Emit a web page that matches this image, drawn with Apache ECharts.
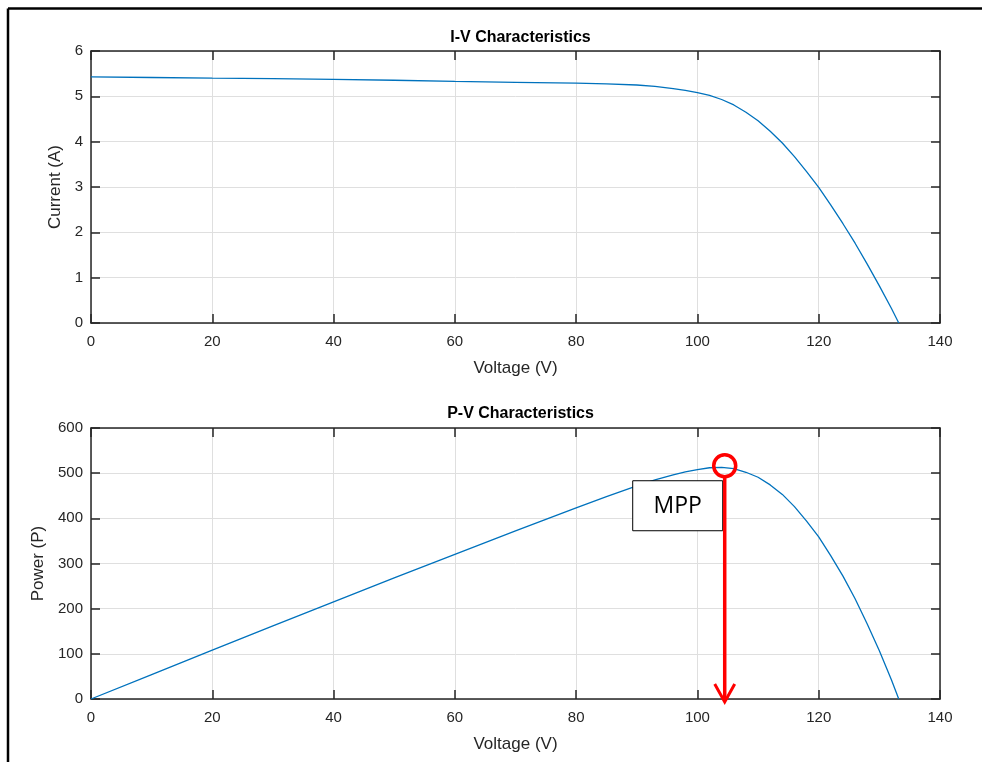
<!DOCTYPE html>
<html>
<head>
<meta charset="utf-8">
<script src="https://cdn.jsdelivr.net/npm/echarts@6/dist/echarts.min.js"></script>
<style>
html,body{margin:0;padding:0;background:#fff;}
#c{width:982px;height:762px;}
</style>
</head>
<body>
<div id="c"></div>
<script>
// ---- data ----
var voltage = [0, 10, 20, 30, 40, 50, 60, 70, 80, 85, 90, 93, 96, 98, 100, 102, 104, 106, 108, 110, 112, 114, 116, 118, 120, 122, 124, 126, 128, 130, 132, 133.2];
var current = [5.43, 5.415, 5.40, 5.39, 5.375, 5.355, 5.33, 5.31, 5.29, 5.275, 5.25, 5.22, 5.17, 5.13, 5.08, 5.02, 4.93, 4.81, 4.65, 4.46, 4.23, 3.97, 3.67, 3.34, 2.99, 2.60, 2.19, 1.76, 1.30, 0.82, 0.32, 0];
var power = [0, 54, 108, 162, 215, 268, 320, 372, 423, 448, 472, 485, 496, 503, 508, 512, 513, 510, 502, 491, 474, 453, 426, 394, 359, 317, 272, 222, 166, 107, 42, 0];
var mpp = [104.5, 512];
var mppLabel = 'MPP';
var titles = ['I-V Characteristics', 'P-V Characteristics'];
var xName = 'Voltage (V)';
var yNames = ['Current (A)', 'Power (P)'];
var xRange = {min: 0, max: 140, interval: 20};
var iRange = {min: 0, max: 6, interval: 1};
var pRange = {min: 0, max: 600, interval: 100};

var ivData = voltage.map(function (v, i) { return [v, current[i]]; });
var pvData = voltage.map(function (v, i) { return [v, power[i]]; });

var FONT = '"Liberation Sans", Arial, Helvetica, sans-serif';
var AX = '#262626';
var GRIDC = '#dfdfdf';

function axisBase(range, gridIndex, pos, labels, grid) {
  return {
    type: 'value', gridIndex: gridIndex, position: pos,
    min: range.min, max: range.max, interval: range.interval,
    axisLine: {show: true, onZero: false, lineStyle: {color: AX, width: 1.5}},
    axisTick: {show: true, inside: true, length: 9, lineStyle: {color: AX, width: 1.5}},
    axisLabel: {show: labels, color: AX, fontSize: 15, fontFamily: FONT, margin: (pos === 'bottom' ? 11 : 8)},
    splitLine: {show: grid, lineStyle: {color: GRIDC, width: 1}}
  };
}

var xAxes = [], yAxes = [];
[0, 1].forEach(function (g) {
  var xb = axisBase(xRange, g, 'bottom', true, true);
  xb.name = xName; xb.nameLocation = 'middle'; xb.nameGap = 37;
  xb.nameTextStyle = {color: AX, fontSize: 17, fontFamily: FONT};
  xAxes.push(xb);
  xAxes.push(axisBase(xRange, g, 'top', false, false));
  var yr = g === 0 ? iRange : pRange;
  var yl = axisBase(yr, g, 'left', true, true);
  yl.name = yNames[g]; yl.nameLocation = 'middle'; yl.nameGap = g === 0 ? 25 : 41;
  yl.nameTextStyle = {color: AX, fontSize: 17, fontFamily: FONT};
  yAxes.push(yl);
  yAxes.push(axisBase(yr, g, 'right', false, false));
});

var chart = echarts.init(document.getElementById('c'), null, {renderer: 'canvas'});
chart.setOption({
  backgroundColor: '#fff',
  animation: false,
  title: [
    {text: titles[0], left: 515.5, top: 25, textAlign: 'center',
     textStyle: {fontSize: 16, fontWeight: 'bold', color: '#000', fontFamily: FONT}},
    {text: titles[1], left: 515.5, top: 401, textAlign: 'center',
     textStyle: {fontSize: 16, fontWeight: 'bold', color: '#000', fontFamily: FONT}}
  ],
  grid: [
    {left: 91, top: 51, width: 849, height: 272},
    {left: 91, top: 428, width: 849, height: 271}
  ],
  xAxis: xAxes,
  yAxis: yAxes,
  series: [
    {type: 'line', xAxisIndex: 0, yAxisIndex: 0, data: ivData, showSymbol: false, symbol: 'none',
     smooth: false, lineStyle: {color: '#0072BD', width: 1.3}, z: 5},
    {type: 'line', xAxisIndex: 2, yAxisIndex: 2, data: pvData, showSymbol: false, symbol: 'none',
     smooth: false, lineStyle: {color: '#0072BD', width: 1.3}, z: 5}
  ]
});

// annotations placed through the library's scales
var pt = chart.convertToPixel({xAxisIndex: 2, yAxisIndex: 2}, mpp);
var base = chart.convertToPixel({xAxisIndex: 2, yAxisIndex: 2}, [mpp[0], 0]);
var cx = pt[0], cy = pt[1] - 2, r = 11;
var tipY = base[1] + 3;
chart.setOption({
  graphic: [
    // outer frame
    {type: 'line', shape: {x1: 8, y1: 8.5, x2: 982, y2: 8.5}, style: {stroke: '#000', lineWidth: 2.5}, z: 100},
    {type: 'line', shape: {x1: 8, y1: 8.5, x2: 8, y2: 762}, style: {stroke: '#000', lineWidth: 2.5}, z: 100},
    // MPP box
    {type: 'rect', shape: {x: cx - 92, y: cy + 15, width: 90, height: 50},
     style: {fill: '#fff', stroke: '#000', lineWidth: 1}, z: 100},
    {type: 'text', x: cx - 47, y: cy + 41,
     style: {text: mppLabel, fontSize: 23, fontFamily: '"Open Sans", "Noto Sans", sans-serif', fill: '#000',
             textAlign: 'center', textVerticalAlign: 'middle'}, z: 101},
    // arrow
    {type: 'line', shape: {x1: cx, y1: cy + r, x2: cx, y2: tipY - 1}, style: {stroke: '#ff0000', lineWidth: 3.5}, z: 102},
    {type: 'polyline', shape: {points: [[cx - 10, tipY - 18], [cx, tipY], [cx + 10, tipY - 18]]},
     style: {stroke: '#ff0000', lineWidth: 3, fill: null}, z: 102},
    // circle
    {type: 'circle', shape: {cx: cx, cy: cy, r: r}, style: {stroke: '#ff0000', lineWidth: 3.5, fill: null}, z: 102}
  ]
});
</script>
</body>
</html>
